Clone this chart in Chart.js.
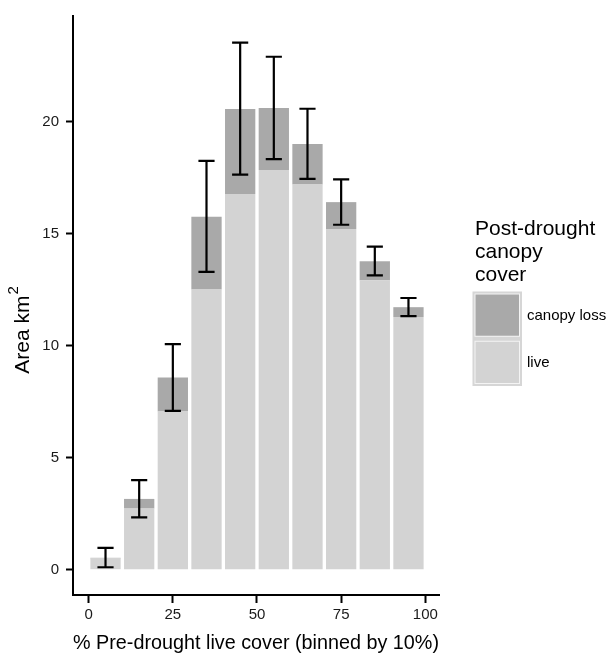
<!DOCTYPE html>
<html>
<head>
<meta charset="utf-8">
<script src="https://cdn.jsdelivr.net/npm/chart.js@4.4.1/dist/chart.umd.min.js"></script>
<style>
  html, body { margin: 0; padding: 0; background: #ffffff; }
  #wrap { width: 616px; height: 658px; }
</style>
</head>
<body>
<div id="wrap"><canvas id="c" width="616" height="658"></canvas></div>
<script>
// ---- data ----
const binCenters = [5, 15, 25, 35, 45, 55, 65, 75, 85, 95];
const liveArea   = [0.50, 2.73, 7.06, 12.51, 16.77, 17.85, 17.20, 15.21, 12.92, 11.28];
const lossArea   = [0.03, 0.43, 1.52, 3.25, 3.80, 2.76, 1.80, 1.20, 0.85, 0.44];
const errLow     = [0.11, 2.34, 7.09, 13.30, 17.64, 18.33, 17.45, 15.40, 13.14, 11.32];
const errHigh    = [0.97, 4.00, 10.07, 18.25, 23.53, 22.90, 20.58, 17.43, 14.42, 12.13];
const xTickValues = [0, 25, 50, 75, 100];
const yTickValues = [0, 5, 10, 15, 20];
const seriesNames = ['live', 'canopy loss'];
const legendTitle = ['Post-drought', 'canopy', 'cover'];
const xTitle = '% Pre-drought live cover (binned by 10%)';
const yTitleMain = 'Area km';
const yTitleSup = '2';

const LIVE = '#D3D3D3', LOSS = '#A9A9A9';
const FONT = "'Liberation Sans', Arial, Helvetica, sans-serif";
Chart.defaults.font.family = FONT;

const errorBars = {
  id: 'errorBars',
  afterDatasetsDraw(chart) {
    const ctx = chart.ctx, xs = chart.scales.x, ys = chart.scales.y;
    ctx.save();
    ctx.strokeStyle = '#000';
    ctx.lineWidth = 2.2;
    ctx.lineCap = 'butt';
    binCenters.forEach((c, i) => {
      const x = xs.getPixelForValue(c);
      const x0 = xs.getPixelForValue(c - 2.4), x1 = xs.getPixelForValue(c + 2.4);
      const yl = ys.getPixelForValue(errLow[i]), yh = ys.getPixelForValue(errHigh[i]);
      ctx.beginPath();
      ctx.moveTo(x, yl); ctx.lineTo(x, yh);
      ctx.moveTo(x0, yl); ctx.lineTo(x1, yl);
      ctx.moveTo(x0, yh); ctx.lineTo(x1, yh);
      ctx.stroke();
    });
    ctx.restore();
  }
};

const extras = {
  id: 'extras',
  afterDraw(chart) {
    const ctx = chart.ctx;
    ctx.save();
    // y axis title with superscript
    ctx.fillStyle = '#000';
    ctx.translate(29, 0);
    ctx.rotate(-Math.PI / 2);
    ctx.font = '21px ' + FONT;
    ctx.textBaseline = 'alphabetic';
    const wMain = ctx.measureText(yTitleMain).width;
    ctx.font = '15px ' + FONT;
    const wSup = ctx.measureText(yTitleSup).width;
    const total = wMain + 1 + wSup;
    const cy = 330;
    const start = -(cy + total / 2);
    ctx.font = '21px ' + FONT;
    ctx.textAlign = 'left';
    ctx.fillText(yTitleMain, start, 0);
    ctx.font = '15px ' + FONT;
    ctx.fillText(yTitleSup, start + wMain + 1, -11);
    ctx.restore();

    // legend
    ctx.save();
    ctx.fillStyle = '#000';
    ctx.font = '21px ' + FONT;
    ctx.textAlign = 'left';
    ctx.textBaseline = 'alphabetic';
    legendTitle.forEach((t, i) => ctx.fillText(t, 475, 235 + i * 23));
    const kx = 472.5, ky = 291.5, kw = 49.5, kh = 47.25;
    ctx.fillStyle = '#D6D6D6';
    ctx.fillRect(kx, ky, kw, kh * 2);
    const keyColors = [LOSS, LIVE];
    const keyLabels = [seriesNames[1], seriesNames[0]];
    keyColors.forEach((col, i) => {
      const y = ky + i * kh;
      ctx.fillStyle = '#F4F4F4';
      ctx.fillRect(kx + 2, y + 2, kw - 4, kh - 4);
      ctx.fillStyle = col;
      ctx.fillRect(kx + 3, y + 3, kw - 6, kh - 6);
      ctx.fillStyle = '#000';
      ctx.font = '15px ' + FONT;
      ctx.fillText(keyLabels[i], 527, y + 28.5);
    });
    ctx.restore();
  }
};

new Chart(document.getElementById('c'), {
  type: 'bar',
  data: {
    datasets: [
      { label: seriesNames[0], data: binCenters.map((c, i) => ({ x: c, y: liveArea[i] })), backgroundColor: LIVE, borderWidth: 0 },
      { label: seriesNames[1], data: binCenters.map((c, i) => ({ x: c, y: lossArea[i] })), backgroundColor: LOSS, borderWidth: 0 }
    ]
  },
  options: {
    responsive: false,
    animation: false,
    events: [],
    barPercentage: 0.9,
    categoryPercentage: 1.0,
    layout: { padding: { top: 7, right: 177, left: 0, bottom: 0 } },
    plugins: { legend: { display: false }, tooltip: { enabled: false } },
    scales: {
      x: {
        type: 'linear',
        stacked: true,
        offset: false,
        min: -4.66, max: 104.07,
        afterBuildTicks: s => { s.ticks = xTickValues.map(v => ({ value: v })); },
        afterFit: s => { s.height = 63; },
        grid: { display: true, offset: false, drawOnChartArea: false, drawTicks: true, tickLength: 8, tickColor: '#000', tickWidth: 2 },
        border: { display: true, color: '#000', width: 2 },
        ticks: { color: '#1a1a1a', font: { size: 15 }, padding: 3, maxRotation: 0, autoSkip: false },
        title: { display: true, text: xTitle, color: '#000', font: { size: 21 }, padding: { top: 0, bottom: 2 } }
      },
      y: {
        type: 'linear',
        stacked: true,
        min: -1.13, max: 24.72,
        afterBuildTicks: s => { s.ticks = yTickValues.map(v => ({ value: v })); },
        afterFit: s => { s.width = 73; },
        grid: { display: true, offset: false, drawOnChartArea: false, drawTicks: true, tickLength: 7, tickColor: '#000', tickWidth: 2 },
        border: { display: true, color: '#000', width: 2 },
        ticks: { color: '#1a1a1a', font: { size: 15 }, padding: 7, autoSkip: false }
      }
    }
  },
  plugins: [errorBars, extras]
});
</script>
</body>
</html>
